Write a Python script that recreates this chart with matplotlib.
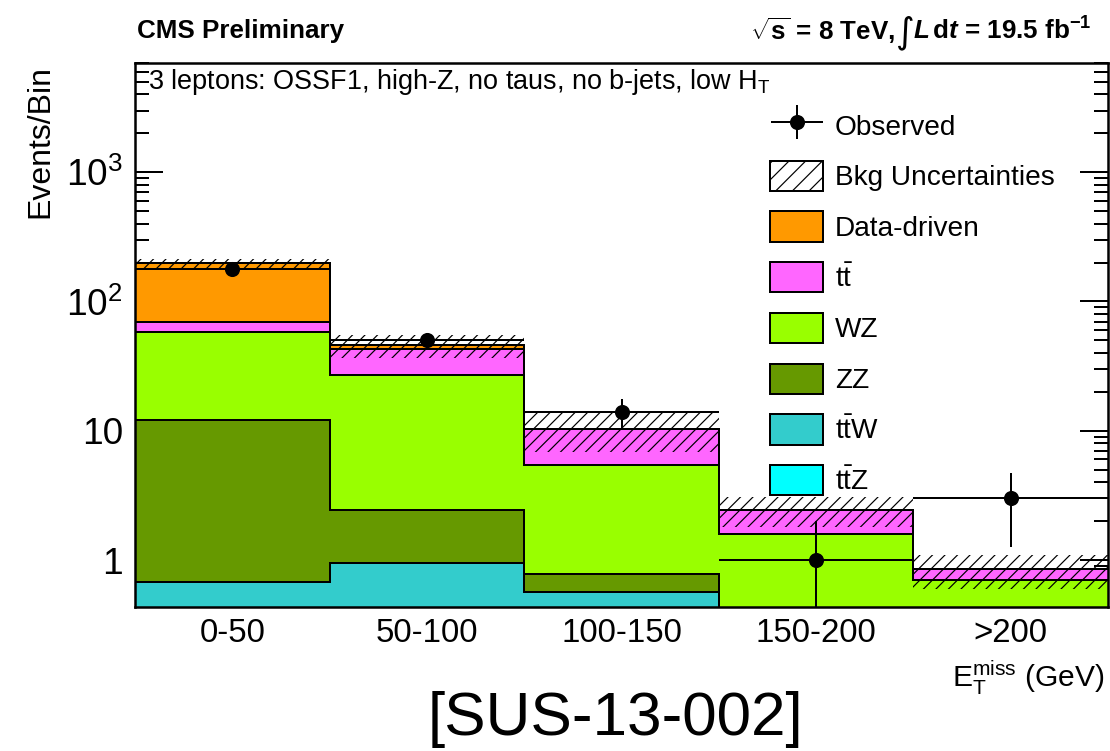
import numpy as np
import matplotlib
matplotlib.use("Agg")
import matplotlib.pyplot as plt
from matplotlib.patches import Patch
from matplotlib.legend_handler import HandlerErrorbar
from matplotlib.container import ErrorbarContainer

# ---- data -------------------------------------------------------------
bins = ["0-50", "50-100", "100-150", "150-200", ">200"]
observed = [178, 50, 14, 1, 3]
ttz = [0.30, 0.35, 0.20, 0.12, 0.08]
ttw = [0.38, 0.59, 0.36, 0.15, 0.05]
zz = [11.4, 1.50, 0.22, 0.10, 0.05]
wz = [45.6, 24.6, 4.65, 1.22, 0.52]
ttbar = [11.6, 16.0, 4.87, 0.85, 0.15]
data_driven = [127.7, 2.7, 0.0, 0.0, 0.0]
bkg_unc = [16.0, 9.3, 3.4, 0.64, 0.25]

ytick_vals = [1, 10, 100, 1000]
ytick_labels = ["1", "10", r"$10^{2}$", r"$10^{3}$"]

# ---- style ------------------------------------------------------------
DPI = 150
W, H = 1110, 751


def pt(pixels):
    return pixels * 72.0 / DPI


plt.rcParams["font.family"] = ["Liberation Sans", "DejaVu Sans"]
plt.rcParams["mathtext.fontset"] = "custom"
plt.rcParams["mathtext.rm"] = "Liberation Sans"
plt.rcParams["mathtext.sf"] = "Liberation Sans"
plt.rcParams["mathtext.it"] = "Liberation Sans:italic"
plt.rcParams["mathtext.bf"] = "Liberation Sans:bold"
plt.rcParams["mathtext.bfit"] = "Liberation Sans:italic:bold"
plt.rcParams["hatch.linewidth"] = pt(1.2)
HATCH = "////"

colors = {
    "Data-driven": "#ff9900",
    "ttbar": "#ff66ff",
    "WZ": "#99ff00",
    "ZZ": "#669900",
    "ttW": "#33cccc",
    "ttZ": "#00ffff",
}

fig = plt.figure(figsize=(W / DPI, H / DPI), dpi=DPI)
L, R, T, B = 135, 1108, 63, 607
ax = fig.add_axes([L / W, 1 - B / H, (R - L) / W, (B - T) / H])
ax.set_yscale("log")
ax.set_xlim(0, len(bins))
ax.set_ylim(0.433, 7000)

edges = np.arange(len(bins) + 1)
layers = [
    ("ttZ", ttz),
    ("ttW", ttw),
    ("ZZ", zz),
    ("WZ", wz),
    ("ttbar", ttbar),
    ("Data-driven", data_driven),
]

lw_hist = pt(2.0)
base = np.full(len(bins), 1e-3)
tops = []
for name, vals in layers:
    top = base + np.asarray(vals, dtype=float)
    ax.stairs(top, edges, baseline=base, fill=True,
              facecolor=colors[name], edgecolor="none", zorder=2)
    tops.append(top)
    base = top
for top in tops:
    ax.stairs(top, edges, baseline=None, color="black",
              linewidth=lw_hist, zorder=3)

total = tops[-1]
unc = np.asarray(bkg_unc)
ax.stairs(total + unc, edges, baseline=total - unc, fill=True,
          facecolor="none", edgecolor="black", linewidth=0,
          hatch=HATCH, zorder=4)

centers = edges[:-1] + 0.5
obs = np.asarray(observed, dtype=float)
err = np.sqrt(obs)
ylo = np.minimum(err, obs - 1e-4)
eb = ax.errorbar(centers, obs, xerr=0.5, yerr=[ylo, err], fmt="o",
                 color="black", markersize=pt(13), elinewidth=pt(2.0),
                 capsize=0, zorder=5)

# ---- axes ---------------------------------------------------------------
for s in ax.spines.values():
    s.set_linewidth(pt(2.5))
    s.set_zorder(6)

ax.set_yticks(ytick_vals)
ax.set_yticklabels(ytick_labels)
ax.tick_params(axis="y", which="major", direction="in", length=pt(28),
               width=pt(2), left=True, right=True, labelsize=pt(37),
               pad=pt(12))
ax.tick_params(axis="y", which="minor", direction="in", length=pt(14),
               width=pt(2), left=True, right=True)
ax.yaxis.set_minor_formatter(matplotlib.ticker.NullFormatter())

ax.set_xticks(centers)
ax.set_xticklabels(bins)
ax.set_xticks(edges[1:-1], minor=True)
ax.tick_params(axis="x", which="major", length=0, labelsize=pt(33),
               pad=pt(11))
ax.tick_params(axis="x", which="minor", direction="in", length=pt(38),
               width=pt(2), bottom=True, top=False)

# ---- legend -------------------------------------------------------------
leg_fs = 28
handles = [
    eb,
    Patch(facecolor="white", edgecolor="black", hatch="///", linewidth=pt(2)),
    Patch(facecolor=colors["Data-driven"], edgecolor="black", linewidth=pt(2)),
    Patch(facecolor=colors["ttbar"], edgecolor="black", linewidth=pt(2)),
    Patch(facecolor=colors["WZ"], edgecolor="black", linewidth=pt(2)),
    Patch(facecolor=colors["ZZ"], edgecolor="black", linewidth=pt(2)),
    Patch(facecolor=colors["ttW"], edgecolor="black", linewidth=pt(2)),
    Patch(facecolor=colors["ttZ"], edgecolor="black", linewidth=pt(2)),
]
labels = ["Observed", "Bkg Uncertainties", "Data-driven", r"t$\bar{\mathrm{t}}$",
          "WZ", "ZZ", r"t$\bar{\mathrm{t}}$W", r"t$\bar{\mathrm{t}}$Z"]
leg = ax.legend(handles, labels, loc="upper left",
                bbox_to_anchor=(770 / W, 1 - 110 / H),
                bbox_transform=fig.transFigure, frameon=False,
                fontsize=pt(leg_fs), handlelength=53 / leg_fs,
                handleheight=36 / leg_fs, labelspacing=20.2 / leg_fs,
                handletextpad=12 / leg_fs, borderpad=0, borderaxespad=0,
                handler_map={ErrorbarContainer: HandlerErrorbar(
                    xerr_size=26 / leg_fs, yerr_size=17 / leg_fs)})
leg.set_zorder(7)

# ---- labels -------------------------------------------------------------
fig.text(137 / W, 1 - 31 / H, "CMS Preliminary", fontsize=pt(26),
         fontweight="bold", ha="left", va="center")

# energy / luminosity header, assembled right to left
renderer = fig.canvas.get_renderer()
hy = 1 - 31 / H
lumi = fig.text(1092 / W, hy,
                r"$\mathbfit{L}\,\mathbf{d}\mathbfit{t}$ = 19.5 fb$^{\mathbf{-1}}$",
                fontsize=pt(26), fontweight="bold", ha="right", va="center")
bb = lumi.get_window_extent(renderer)
integ = fig.text((bb.x0 + 1) / W, hy - 2 / H, "\u222b", fontsize=pt(36),
                 family="DejaVu Sans", ha="right", va="center")
bb = integ.get_window_extent(renderer)
fig.text((bb.x0 - 1) / W, hy, r"$\sqrt{\mathbf{s}}$ = 8 TeV,",
         fontsize=pt(26), fontweight="bold", ha="right", va="center")

fig.text(148 / W, 1 - 82 / H,
         r"3 leptons: OSSF1, high-Z, no taus, no b-jets, low H$_{\mathrm{T}}$",
         fontsize=pt(27), ha="left", va="center")
fig.text(40 / W, 1 - 65 / H, "Events/Bin", rotation=90, fontsize=pt(32),
         ha="center", va="top")
fig.text(1105 / W, 1 - 678 / H, r"E$_{\mathrm{T}}^{\mathrm{miss}}$ (GeV)",
         fontsize=pt(30), ha="right", va="center")
fig.text(615 / W, 1 - 719 / H, "[SUS-13-002]", fontsize=pt(62),
         ha="center", va="center")

fig.savefig("out.png", dpi=DPI)
